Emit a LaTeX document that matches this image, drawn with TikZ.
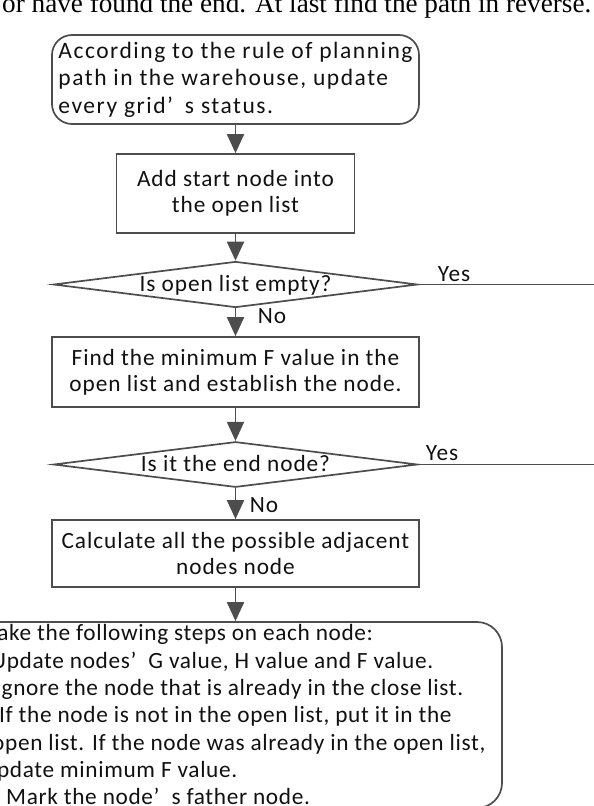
\documentclass[tikz,border=0pt]{standalone}
\usepackage{fontspec}
\setmainfont{Carlito}
\newfontfamily\seriffont{Liberation Serif}
\newfontfamily\boxfont[LetterSpace=4]{Carlito}
\newfontfamily\boxfontw[LetterSpace=6.5]{Carlito}
\newfontfamily\boxfontn[LetterSpace=2.8]{Carlito}
\usetikzlibrary{shapes.geometric,arrows.meta}
\definecolor{linegray}{HTML}{4D4D4D}
\definecolor{textc}{HTML}{111111}
\begin{document}
\begin{tikzpicture}[x=1pt,y=-1pt,
  boxfnt/.style={font=\boxfont\fontsize{23.3}{26}\selectfont},
  stepbox/.style={draw=linegray, line width=1.7pt, inner sep=0pt, text=textc, boxfnt, align=center},
  roundbox/.style={stepbox, rounded corners=20pt},
  decision/.style={draw=linegray, line width=1.7pt, diamond, aspect=6, inner sep=0pt,
    minimum width=364pt, minimum height=43pt, text height=14pt, text depth=0pt, text=textc, boxfnt},
  arr/.style={draw=linegray, line width=1.9pt, -{Triangle[length=19pt,width=17pt]}},
  yesline/.style={draw=linegray, line width=1.9pt},
  lab/.style={boxfnt, inner sep=0pt, text=textc}]
\useasboundingbox (0,0) rectangle (594,806);
\begin{scope}
\clip (0,0) rectangle (594,806);
% top running text
\node[anchor=base west, inner sep=0pt, font=\seriffont\fontsize{27.2}{30}\selectfont] (toptext) at (2,12) {or have found the end. At last find the path in reverse.};
% boxes
\node[roundbox, minimum width=367pt, minimum height=89pt, align=left, font=\boxfontw\fontsize{23.5}{27.5}\selectfont] (b1) at (235.5,79.5)
  {According to the rule of planning\\path in the warehouse, update\\every grid’\hspace{12pt}s status.};
\node[stepbox, minimum width=238pt, minimum height=79pt] (b2) at (235.5,193.5) {Add start node into\\the open list};
\node[decision] (d1) at (235.5,284.5) {Is open list empty?};
\node[stepbox, minimum width=367pt, minimum height=70pt] (b3) at (235.5,372) {Find the minimum F value in the\\open list and establish the node.};
\node[decision] (d2) at (235.5,464.5) {Is it the end node?};
\node[stepbox, minimum width=367pt, minimum height=67pt] (b4) at (235.5,553.5) {Calculate all the possible adjacent\\nodes node};
\node[draw=linegray, line width=1.7pt, rounded corners=25pt, inner sep=0pt, minimum width=542pt, minimum height=186pt] (b5) at (231,715) {};
\node[anchor=north west, inner sep=0pt, align=left, text=textc, font=\boxfontn\fontsize{23.3}{27.3}\selectfont] (steps) at (-16,624.5)
  {\hspace*{3pt}Take the following steps on each node:\\
   \hspace*{7pt}Update nodes’\hspace{12pt}G value, H value and F value.\\
   \hspace*{11pt}Ignore the node that is already in the close list.\\
   \hspace*{15pt}If the node is not in the open list, put it in the\\
   \hspace*{8pt}open list. If the node was already in the open list,\\
   update minimum F value.\\
   \hspace*{22pt}Mark the node’\hspace{12pt}s father node.};
% connectors
\draw[arr] (b1.south) -- (b2.north);
\draw[arr] (b2.south) -- (d1.north);
\draw[arr] (d1.south) -- (b3.north);
\draw[arr] (b3.south) -- (d2.north);
\draw[arr] (d2.south) -- (b4.north);
\draw[arr] (b4.south) -- (b4.south |- b5.north);
\coordinate (e1) at (600,284.5);
\coordinate (e2) at (600,464.5);
\draw[yesline] (d1.east) -- (e1);
\draw[yesline] (d2.east) -- (e2);
% labels
\node[lab] (y1) at (454,274.5) {Yes};
\node[lab] (n1) at (272,316) {No};
\node[lab] (y2) at (442,453) {Yes};
\node[lab] (n2) at (264,505) {No};
\end{scope}
\end{tikzpicture}
\end{document}
